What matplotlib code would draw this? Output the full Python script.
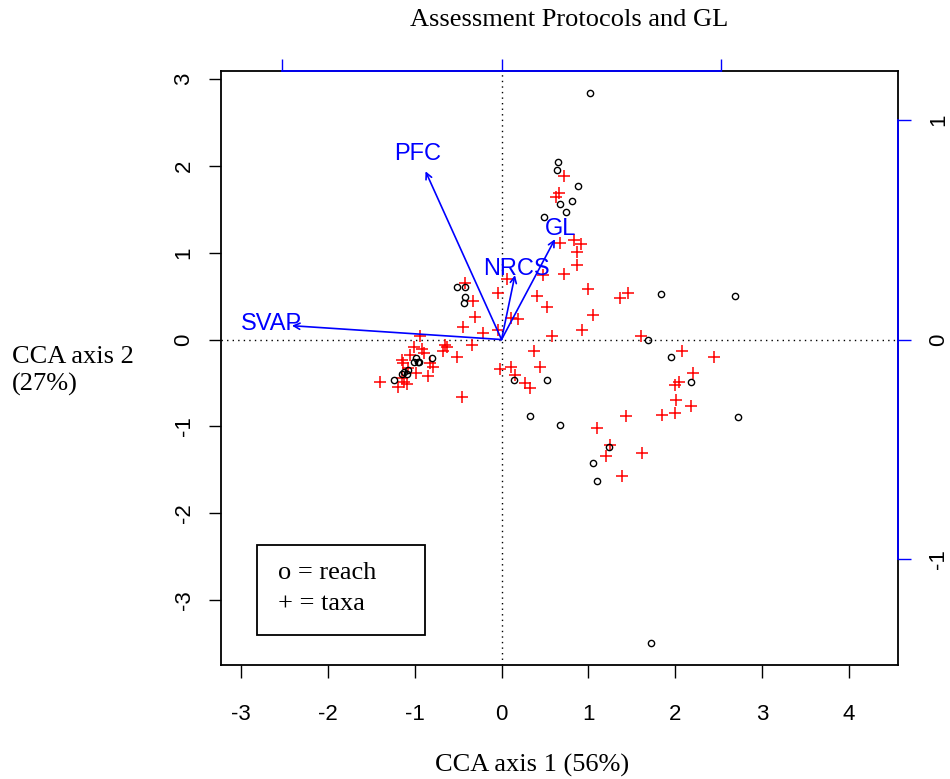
import matplotlib.pyplot as plt
from matplotlib.patches import Rectangle

plt.rcParams["axes.unicode_minus"] = False

# site scores (reach) - black circles
reach_x = [1.018, 0.655, 0.638, 0.876, 0.810, 0.676, 0.741, 0.488,
           -0.508, -0.418, -0.418, -0.436, 1.832, 2.687, 1.682, 1.956,
           2.178, 2.725, 0.143, 0.519, 0.330, 0.678, 1.239, 1.050,
           1.101, 1.717, -0.986, -1.005, -0.966, -0.948, -0.798, -1.072,
           -1.120, -1.141, -1.091, -1.236]
reach_y = [2.839, 2.041, 1.958, 1.768, 1.595, 1.564, 1.465, 1.407,
           0.608, 0.608, 0.495, 0.420, 0.521, 0.504, -0.009, -0.198,
           -0.486, -0.896, -0.470, -0.470, -0.881, -0.979, -1.235, -1.426,
           -1.630, -3.492, -0.210, -0.256, -0.263, -0.259, -0.215, -0.346,
           -0.369, -0.392, -0.392, -0.466]

# species scores (taxa) - red crosses
taxa_x = [-0.441, -0.939, -0.337, -1.005, -0.920, -0.890, -0.652, -0.632,
          -0.678, -0.517, -1.055, -1.150, -1.132, -0.824, -0.786, -1.081,
          -0.989, -0.844, -1.400, -1.189, -1.120, -0.459, -1.147, -1.089,
          -0.421, -0.326, -0.306, -0.211, -0.038, -0.038, 0.059, 0.108,
          0.185, 0.404, 0.526, 0.586, 0.477, 0.718, 0.376, 0.718,
          0.664, 0.623, 0.672, 0.837, 0.914, 0.872, 0.872, 0.991,
          1.367, 1.459, 1.056, 0.929, 1.608, 0.105, -0.018, 0.154,
          0.442, 0.269, 0.327, 2.083, 2.445, 2.204, 2.046, 2.002,
          2.004, 2.186, 1.843, 2.002, 1.436, 1.095, 1.248, 1.198,
          1.622, 1.386]
taxa_y = [0.147, 0.044, -0.063, -0.090, -0.113, -0.152, -0.063, -0.090,
          -0.129, -0.205, -0.179, -0.236, -0.267, -0.267, -0.313, -0.332,
          -0.382, -0.420, -0.493, -0.544, -0.486, -0.666, -0.443, -0.512,
          0.651, 0.443, 0.256, 0.078, 0.109, 0.536, 0.697, 0.251,
          0.233, 0.501, 0.374, 0.040, 0.743, 0.751, -0.129, 1.883,
          1.684, 1.645, 1.115, 1.146, 1.100, 1.004, 0.858, 0.582,
          0.474, 0.541, 0.288, 0.109, 0.040, -0.313, -0.343, -0.409,
          -0.320, -0.504, -0.562, -0.132, -0.202, -0.386, -0.489, -0.524,
          -0.697, -0.766, -0.870, -0.843, -0.881, -1.019, -1.212, -1.342,
          -1.311, -1.572]

# environmental biplot scores
env_names = ["SVAP", "PFC", "NRCS", "GL"]
env_x = [-0.954, -0.346, 0.061, 0.243]
env_y = [0.063, 0.766, 0.293, 0.457]
mult = 2.53

serif = "Liberation Serif"
sans = "Liberation Sans"

fig = plt.figure(figsize=(9.5, 7.79), dpi=100)
ax = fig.add_axes([0.2326, 0.1463, 0.7126, 0.7625])
xlim = (-3.2305, 4.5637)
ylim = (-3.7487, 3.0922)

ax.axhline(0, color="black", lw=1, ls=(0, (1, 3)), zorder=1)
ax.axvline(0, color="black", lw=1, ls=(0, (1, 3)), zorder=1)

ax.plot(taxa_x, taxa_y, "+", color="red", ms=8, mew=1.1, zorder=2)
ax.plot(reach_x, reach_y, "o", mfc="none", mec="black", ms=4.5, mew=1.0, zorder=3)

for name, ex, ey in zip(env_names, env_x, env_y):
    ax.annotate("", xy=(ex * mult, ey * mult), xytext=(0, 0),
                arrowprops=dict(arrowstyle="->", color="blue", lw=1.2,
                                mutation_scale=11, shrinkA=0, shrinkB=0),
                zorder=4)
    ax.text(ex * mult * 1.1, ey * mult * 1.1, name, color="blue",
            family=sans, fontsize=17, ha="center", va="center", zorder=5)

ax.set_xlim(xlim)
ax.set_ylim(ylim)
ax.set_xticks(range(-3, 5))
ax.set_yticks(range(-3, 4))
ax.tick_params(direction="out", length=9, width=1, labelsize=16)
ax.tick_params(axis="x", pad=19)
ax.tick_params(axis="y", pad=10)
for lab in ax.get_xticklabels() + ax.get_yticklabels():
    lab.set_family(sans)
for lab in ax.get_yticklabels():
    lab.set_rotation(90)
    lab.set_va("center")
for s in ax.spines.values():
    s.set_linewidth(1.3)

# legend box
ax.add_patch(Rectangle((-2.816, -3.403), 1.934, 1.036, fill=False, lw=1.3,
                       edgecolor="black", zorder=5))
ax.text(-2.573, -2.689, "o = reach", family=serif, fontsize=19, va="center")
ax.text(-2.573, -3.046, "+ = taxa", family=serif, fontsize=19, va="center")

# biplot axes (top / right) in blue
axt = ax.twiny()
axt.set_xlim(xlim[0] / mult, xlim[1] / mult)
axt.set_xticks([-1, 0, 1])
axt.tick_params(axis="x", direction="out", length=9, width=1, colors="blue",
                labeltop=False)
axt.spines["top"].set_bounds(-1, 1)
axt.spines["top"].set_color("blue")
axt.spines["top"].set_linewidth(1.3)
for k in ["left", "right", "bottom"]:
    axt.spines[k].set_visible(False)

axr = ax.twinx()
axr.set_ylim(ylim[0] / mult, ylim[1] / mult)
axr.set_yticks([-1, 0, 1])
axr.tick_params(axis="y", direction="out", length=9, width=1, color="blue",
                labelcolor="black", labelsize=16, pad=13)
for lab in axr.get_yticklabels():
    lab.set_rotation(90)
    lab.set_va("center")
    lab.set_family(sans)
axr.spines["right"].set_bounds(-1, 1)
axr.spines["right"].set_color("blue")
axr.spines["right"].set_linewidth(1.3)
for k in ["left", "top", "bottom"]:
    axr.spines[k].set_visible(False)

fig.text(569 / 950, 1 - 20 / 779, "Assessment Protocols and GL", family=serif,
         fontsize=19, ha="center", va="center")
fig.text(532 / 950, 1 - 765 / 779, "CCA axis 1 (56%)", family=serif,
         fontsize=19, ha="center", va="center")
fig.text(12 / 950, 1 - 371 / 779, "CCA axis 2\n(27%)", family=serif,
         fontsize=19, ha="left", va="center", linespacing=1.25)

fig.savefig("out.png", dpi=100)
